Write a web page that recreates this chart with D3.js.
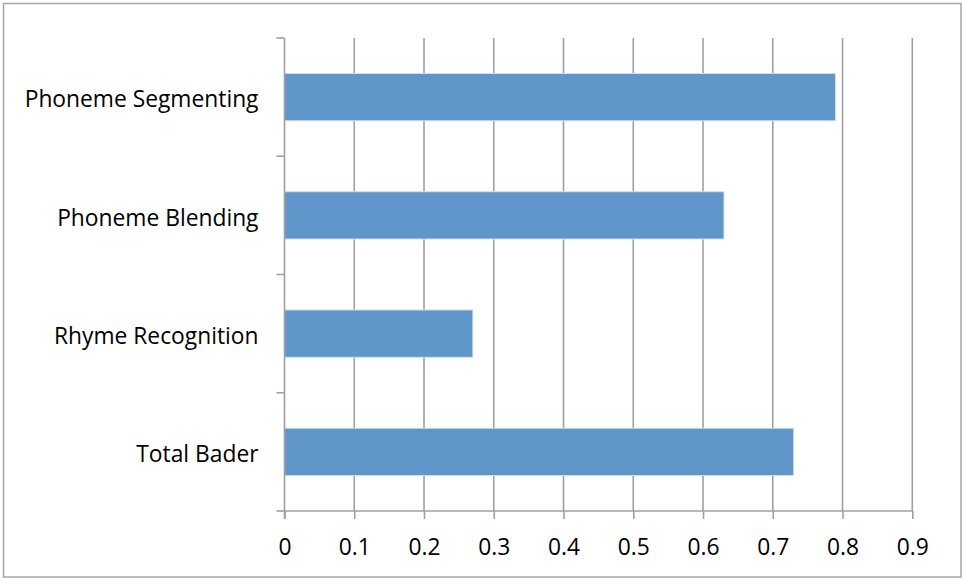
<!DOCTYPE html>
<html><head><meta charset="utf-8">
<script src="https://cdn.jsdelivr.net/npm/d3@7"></script>
<style>body{margin:0;background:#fff}svg{display:block}</style>
</head><body>
<script>
const categories = ["Phoneme Segmenting","Phoneme Blending","Rhyme Recognition","Total Bader"];
const values = [0.79, 0.63, 0.27, 0.73];
const xTicks = [0,0.1,0.2,0.3,0.4,0.5,0.6,0.7,0.8,0.9];
const xTickLabels = ["0","0.1","0.2","0.3","0.4","0.5","0.6","0.7","0.8","0.9"];

const W=963,H=580;
const svg=d3.select("body").append("svg").attr("width",W).attr("height",H);
svg.append("rect").attr("x",3.5).attr("y",3.5).attr("width",957.5).attr("height",573.5)
  .attr("fill","#fff").attr("stroke","#a6a6a6").attr("stroke-width",1.5);

const pL=284.5,pR=912.3,pT=38,pB=511;
const x=d3.scaleLinear().domain([0,0.9]).range([pL,pR]);
const y=d3.scaleBand().domain(categories).range([pT,pB]).paddingInner(0.6).paddingOuter(0.3);
const yb=d3.scaleBand().domain(categories).range([pT,pB]).padding(0);
const font="'Open Sans', sans-serif";
const fs=22.8;

// gridlines
svg.append("g").selectAll("line").data(xTicks.slice(1)).join("line")
  .attr("x1",d=>x(d)).attr("x2",d=>x(d)).attr("y1",pT).attr("y2",pB)
  .attr("stroke","#a0a0a0").attr("stroke-width",1.6);

// bars
svg.append("g").selectAll("rect").data(values).join("rect")
  .attr("x",x(0)).attr("y",(d,i)=>y(categories[i]))
  .attr("width",d=>x(d)-x(0)).attr("height",y.bandwidth())
  .attr("fill","#6096c9").attr("stroke","#cfe0f0").attr("stroke-width",1);

// x axis
const xa=d3.axisBottom(x).tickValues(xTicks).tickSize(8).tickFormat((d,i)=>xTickLabels[i]);
const gx=svg.append("g").attr("transform",`translate(0,${pB})`).call(xa);
gx.select(".domain").attr("stroke","#a0a0a0").attr("stroke-width",1.6).attr("d",`M${pL},0H${pR}`);
gx.selectAll(".tick line").attr("stroke","#a0a0a0").attr("stroke-width",1.6);
gx.selectAll(".tick text").attr("font-family",font).attr("font-size",fs).attr("fill","#000").attr("dy",0).attr("y",44);

// y axis
const gy=svg.append("g");
gy.append("line").attr("x1",pL).attr("x2",pL).attr("y1",pT).attr("y2",pB+8)
  .attr("stroke","#a0a0a0").attr("stroke-width",1.6);
const bounds=categories.map(c=>yb(c)).concat([pB]);
gy.selectAll("line.t").data(bounds).join("line").attr("class","t")
  .attr("x1",pL-8).attr("x2",pL).attr("y1",d=>d).attr("y2",d=>d)
  .attr("stroke","#a0a0a0").attr("stroke-width",1.6);
gy.selectAll("text").data(categories).join("text")
  .attr("x",pL-26).attr("y",d=>y(d)+y.bandwidth()/2).attr("dy","0.45em")
  .attr("text-anchor","end").attr("font-family",font).attr("font-size",fs).attr("fill","#000")
  .text(d=>d);
</script>
</body></html>
